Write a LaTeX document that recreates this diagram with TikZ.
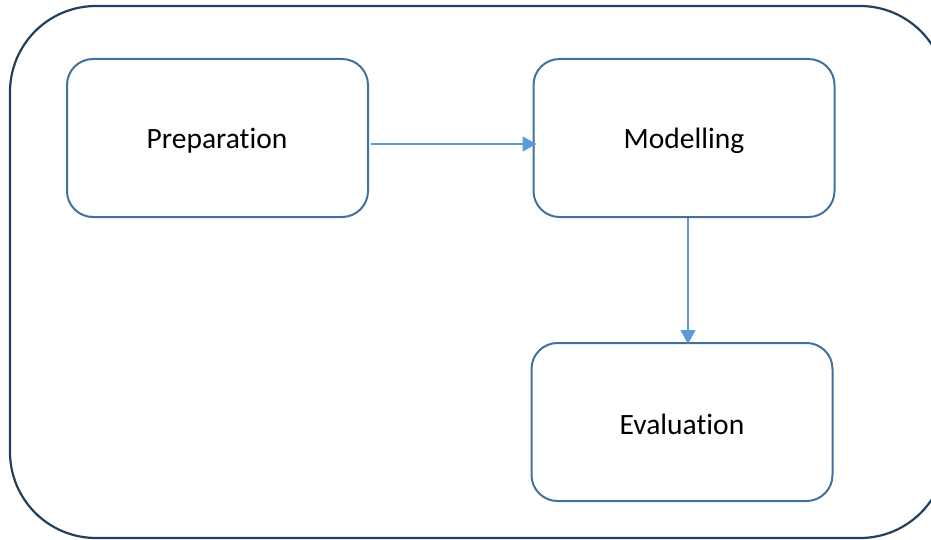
\documentclass[tikz,border=0pt]{standalone}
\usepackage{fontspec}
\setmainfont[Ligatures=NoCommon]{Carlito}
\usetikzlibrary{arrows.meta}
\definecolor{outerc}{HTML}{223F5E}
\definecolor{boxc}{HTML}{41719C}
\definecolor{arrc}{HTML}{5B9BD5}
\begin{document}
\begin{tikzpicture}[x=1pt,y=-1pt,
  stage/.style={draw=boxc,line width=2pt,rounded corners=26pt,minimum width=301pt,minimum height=158pt,
    inner sep=0pt,text=black},
  lbl/.style={font=\fontsize{29.5}{34}\selectfont,text=black,inner sep=0pt},
  flow/.style={draw=arrc,line width=1.3pt,-{Triangle[length=14pt,width=15pt]}}]
\useasboundingbox (0,0) rectangle (931,540);
\clip (0,0) rectangle (931,540);
\draw[outerc,line width=2.2pt,rounded corners=86pt] (10,6) rectangle (946,538);
\node[stage] (prep) at (217.5,138) {};
\node[stage] (mod) at (684,138) {};
\node[stage] (eval) at (682,422) {};
\node[lbl] (tprep) at (217,141) {Preparation};
\node[lbl] (tmod) at (684,141) {Modelling};
\node[lbl] (teval) at (682,424) {Evaluation};
\draw[flow] ([xshift=2pt]prep.east |- 0,144) -- ([xshift=4pt]mod.west |- 0,144);
\draw[flow] (mod.south -| 688,0) -- ([yshift=-2pt]eval.north -| 688,0);
\end{tikzpicture}
\end{document}
